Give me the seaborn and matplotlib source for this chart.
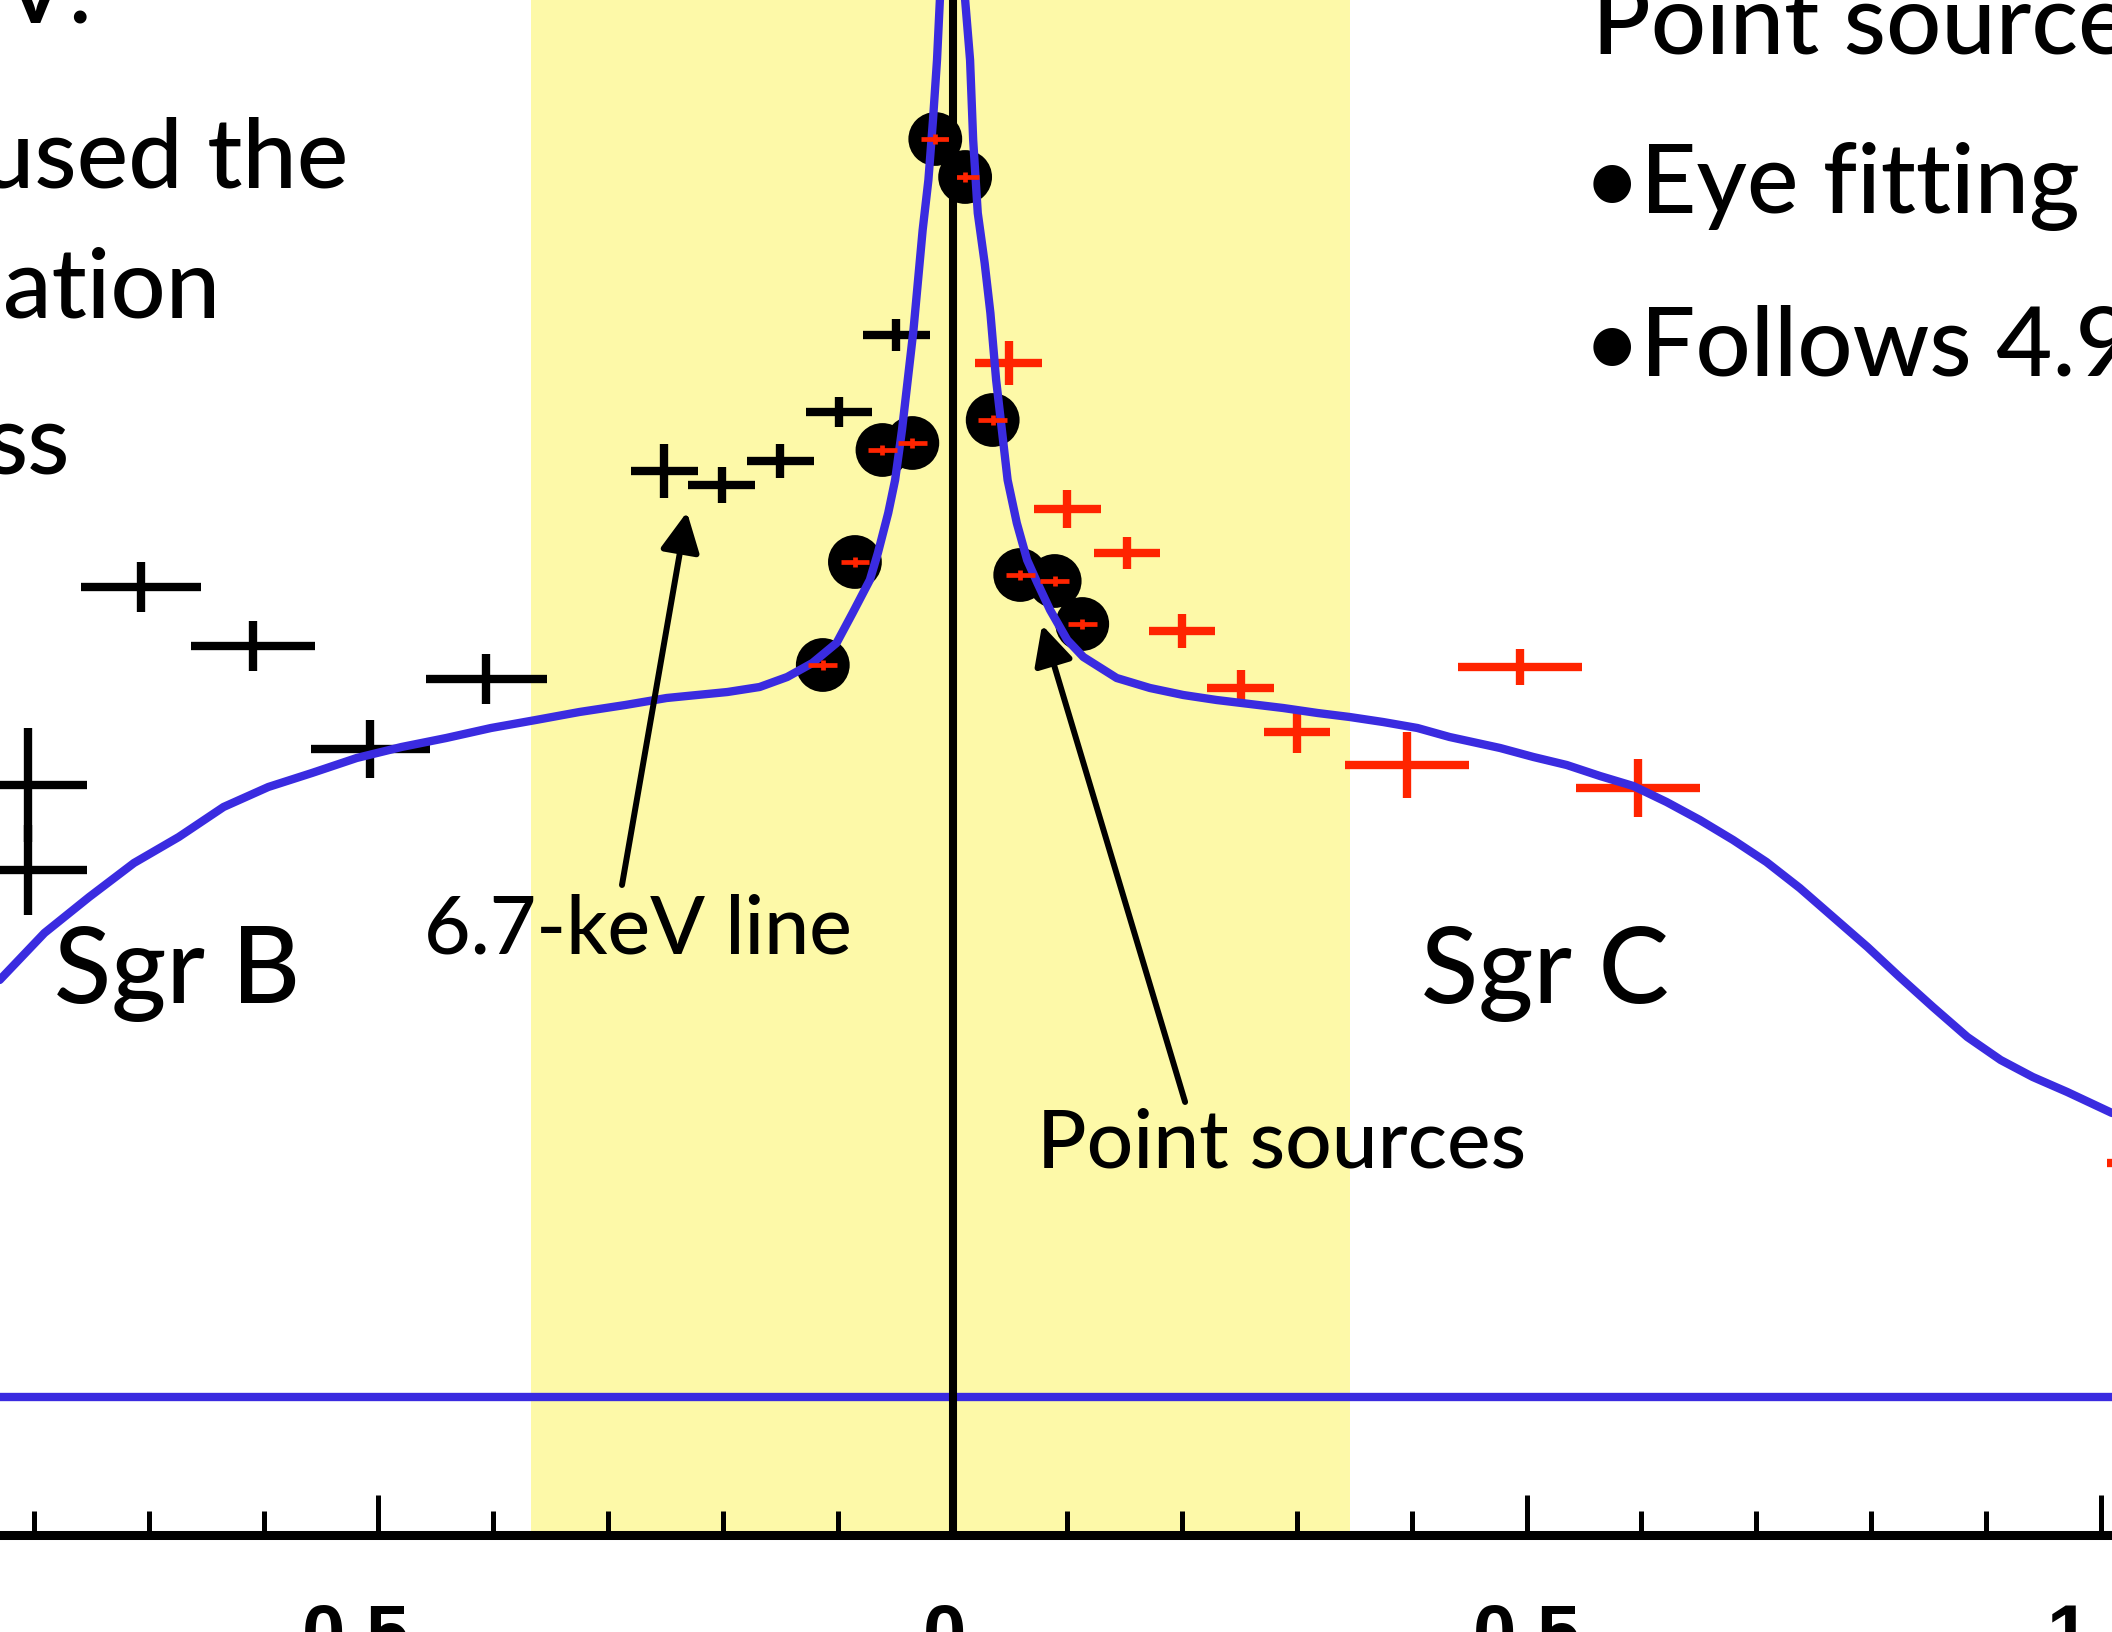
import matplotlib
matplotlib.use("Agg")
import matplotlib.pyplot as plt
import matplotlib.transforms as mtransforms
from matplotlib.ticker import MultipleLocator, FixedLocator
import seaborn as sns

# ---------------- data (galactic longitude in deg, brightness in arbitrary units) -------------
model_l = [0.830, 0.791, 0.752, 0.713, 0.674, 0.635, 0.596, 0.558, 0.519, 0.480,
           0.441, 0.402, 0.363, 0.325, 0.285, 0.249, 0.196, 0.168, 0.144, 0.122,
           0.101, 0.087, 0.072, 0.065, 0.056, 0.050, 0.044, 0.039, 0.034, 0.030,
           0.026, 0.021, 0.017, 0.0135, 0.011, 0.000,
           -0.011, -0.0153, -0.018, -0.022, -0.028, -0.033, -0.038, -0.043, -0.048,
           -0.056, -0.065, -0.074, -0.085, -0.100, -0.114, -0.143, -0.172, -0.201,
           -0.230, -0.259, -0.288, -0.318, -0.346, -0.375, -0.405, -0.433, -0.477,
           -0.506, -0.535, -0.564, -0.593, -0.622, -0.651, -0.680, -0.709, -0.738,
           -0.767, -0.797, -0.825, -0.854, -0.884, -0.913, -0.941, -0.971, -1.010]
model_y = [5.55, 6.02, 6.38, 6.72, 6.98, 7.28, 7.48, 7.62, 7.77, 7.88,
           7.97, 8.07, 8.15, 8.23, 8.30, 8.37, 8.43, 8.48, 8.58, 8.72,
           8.92, 9.22, 9.55, 9.82, 10.22, 10.55, 11.05, 11.55, 12.05, 12.55,
           13.05, 13.55, 14.15, 14.75, 15.35, 18.40,
           15.35, 14.75, 13.95, 13.22, 12.72, 12.22, 11.55, 11.05, 10.55,
           10.12, 9.75, 9.52, 9.25, 8.95, 8.78, 8.57, 8.47, 8.40,
           8.35, 8.31, 8.27, 8.22, 8.18, 8.13, 8.07, 7.98, 7.87,
           7.78, 7.70, 7.59, 7.49, 7.33, 7.15, 6.95, 6.73, 6.47,
           6.18, 5.88, 5.58, 5.28, 4.98, 4.75, 4.58, 4.43, 4.22]
background_level = 1.38

# 6.7-keV line profile, positive longitude side (black)
line_l = [0.805, 0.805, 0.707, 0.609, 0.507, 0.406, 0.251, 0.201, 0.150, 0.099, 0.049]
line_y = [7.50, 6.65, 9.48, 8.89, 7.86, 8.56, 10.64, 10.50, 10.74, 11.23, 12.00]
line_xerr = [0.051, 0.051, 0.052, 0.054, 0.052, 0.053, 0.029, 0.029, 0.029, 0.029, 0.029]
line_yerr = [0.57, 0.45, 0.25, 0.25, 0.29, 0.25, 0.27, 0.18, 0.17, 0.15, 0.16]

# 6.7-keV line profile, negative longitude side (red)
neg_l = [-0.049, -0.100, -0.152, -0.200, -0.251, -0.300, -0.396, -0.494, -0.597, -1.060]
neg_y = [11.72, 10.26, 9.82, 9.04, 8.47, 8.03, 7.70, 8.68, 7.47, 3.72]
neg_xerr = [0.029, 0.029, 0.029, 0.029, 0.029, 0.029, 0.054, 0.054, 0.054, 0.054]
neg_yerr = [0.22, 0.19, 0.16, 0.17, 0.18, 0.21, 0.33, 0.18, 0.29, 0.30]

# point sources (black dots with small red error crosses)
ps_l = [0.015, -0.011, 0.061, 0.035, -0.035, 0.085, -0.059, -0.089, -0.113, 0.113]
ps_y = [13.96, 13.58, 10.85, 10.92, 11.15, 9.73, 9.60, 9.54, 9.11, 8.70]
ps_xerr = [0.0125, 0.0125, 0.0125, 0.0125, 0.0125, 0.0125, 0.0125, 0.0125, 0.0125, 0.0125]
ps_yerr = [0.05, 0.05, 0.05, 0.05, 0.05, 0.05, 0.05, 0.05, 0.05, 0.05]

band_l = [0.367, -0.346]
tick_pos = [0.5, 0.0, -0.5, -1.0]
tick_lab = ["0.5", "0", "0.5", "1.0"]

# ---------------- style ----------------
sns.set_theme(style="white")
plt.rcParams["font.family"] = ["Lato", "DejaVu Sans"]
plt.rcParams["text.color"] = "black"
plt.rcParams["xtick.color"] = "black"

BLUE = "#3a2be0"
RED = "#ff2400"
YELLOW = "#fdf9a8"
FW = "medium"

fig = plt.figure(figsize=(21.12, 16.32), dpi=100)
fig.patch.set_facecolor("white")
ax = fig.add_axes([0.0, 97 / 1632, 1.0, 1535 / 1632])
ax.set_facecolor("white")
ax.set_xlim(0.8297, -1.0100)
ax.set_ylim(0, 15.35)

ax.axvspan(band_l[0], band_l[1], color=YELLOW, lw=0, zorder=0)

ax.axhline(background_level, color=BLUE, lw=6.0, zorder=2)

sns.scatterplot(x=ps_l, y=ps_y, s=1500, color="black", edgecolor="none",
                ax=ax, zorder=3, legend=False)

ax.errorbar(line_l, line_y, xerr=line_xerr, yerr=line_yerr, fmt="none",
            ecolor="black", elinewidth=6.0, capsize=0, zorder=4)
ax.errorbar(neg_l, neg_y, xerr=neg_xerr, yerr=neg_yerr, fmt="none",
            ecolor=RED, elinewidth=6.0, capsize=0, zorder=4)

sns.lineplot(x=model_l, y=model_y, sort=False, estimator=None, color=BLUE,
             lw=6.0, ax=ax, zorder=5)

ax.errorbar(ps_l, ps_y, xerr=ps_xerr, yerr=ps_yerr, fmt="none",
            ecolor=RED, elinewidth=3.4, capsize=0, zorder=6)

ax.axvline(0.0, color="black", lw=5.8, zorder=6)

# annotations
ax.annotate("", xy=(0.2313, 10.23), xytext=(0.2879, 6.50),
            arrowprops=dict(arrowstyle="-|>", lw=4.3, color="black",
                            mutation_scale=60, shrinkA=0, shrinkB=0), zorder=7)
ax.annotate("", xy=(-0.0780, 9.10), xytext=(-0.2026, 4.33),
            arrowprops=dict(arrowstyle="-|>", lw=4.3, color="black",
                            mutation_scale=60, shrinkA=0, shrinkB=0), zorder=7)

ax.text(0.7827, 5.32, "Sgr B", fontsize=76, fontweight=FW, ha="left", va="baseline", color="black")
ax.text(-0.4081, 5.32, "Sgr C", fontsize=76, fontweight=FW, ha="left", va="baseline", color="black")
ax.text(0.4604, 5.81, "6.7-keV line", fontsize=58, fontweight=FW, ha="left", va="baseline", color="black")
ax.text(-0.0736, 3.68, "Point sources", fontsize=59, fontweight=FW, ha="left", va="baseline", color="black")

# slide text around the figure
kw = dict(fontsize=70, fontweight=FW, va="baseline", color="black")
fig.text(92 / 2112, 1 - 24 / 1632, "eV.", ha="right", **kw)
fig.text(348 / 2112, 1 - 187 / 1632, "used the", ha="right", **kw)
fig.text(220 / 2112, 1 - 317 / 1632, "ation", ha="right", **kw)
fig.text(70 / 2112, 1 - 473 / 1632, "ss", ha="right", **kw)
fig.text(1592 / 2112, 1 - 53 / 1632, "Point sources", ha="left", **kw)
fig.text(1584 / 2112, 1 - 213 / 1632, "\u2022Eye fitting", ha="left", **kw)
fig.text(1584 / 2112, 1 - 375 / 1632, "\u2022Follows 4.9", ha="left", **kw)

# axes styling
for side in ["left", "right", "top"]:
    ax.spines[side].set_visible(False)
ax.spines["bottom"].set_visible(True)
ax.spines["bottom"].set_color("black")
ax.spines["bottom"].set_linewidth(6.5)
ax.spines["bottom"].set_zorder(8)

ax.xaxis.set_major_locator(FixedLocator(tick_pos))
ax.set_xticklabels(tick_lab, fontfamily="Liberation Sans", fontweight="bold")
ax.xaxis.set_minor_locator(MultipleLocator(0.1))
ax.tick_params(axis="x", which="major", direction="in", length=29, width=3.6,
               color="black", pad=48, labelsize=56, labelcolor="black",
               bottom=True, top=False)
ax.tick_params(axis="x", which="minor", direction="in", length=17, width=3.6,
               color="black", bottom=True, top=False)
ax.tick_params(axis="y", left=False, right=False, labelleft=False)
ax.grid(False)

# small horizontal nudges of tick labels to match the slide
shifts_px = [-22, -8, 0, 0]
for lab, dx in zip(ax.get_xticklabels(), shifts_px):
    lab.set_transform(lab.get_transform() +
                      mtransforms.ScaledTranslation(dx / 100, 0, fig.dpi_scale_trans))

fig.savefig("out.png", dpi=100)
